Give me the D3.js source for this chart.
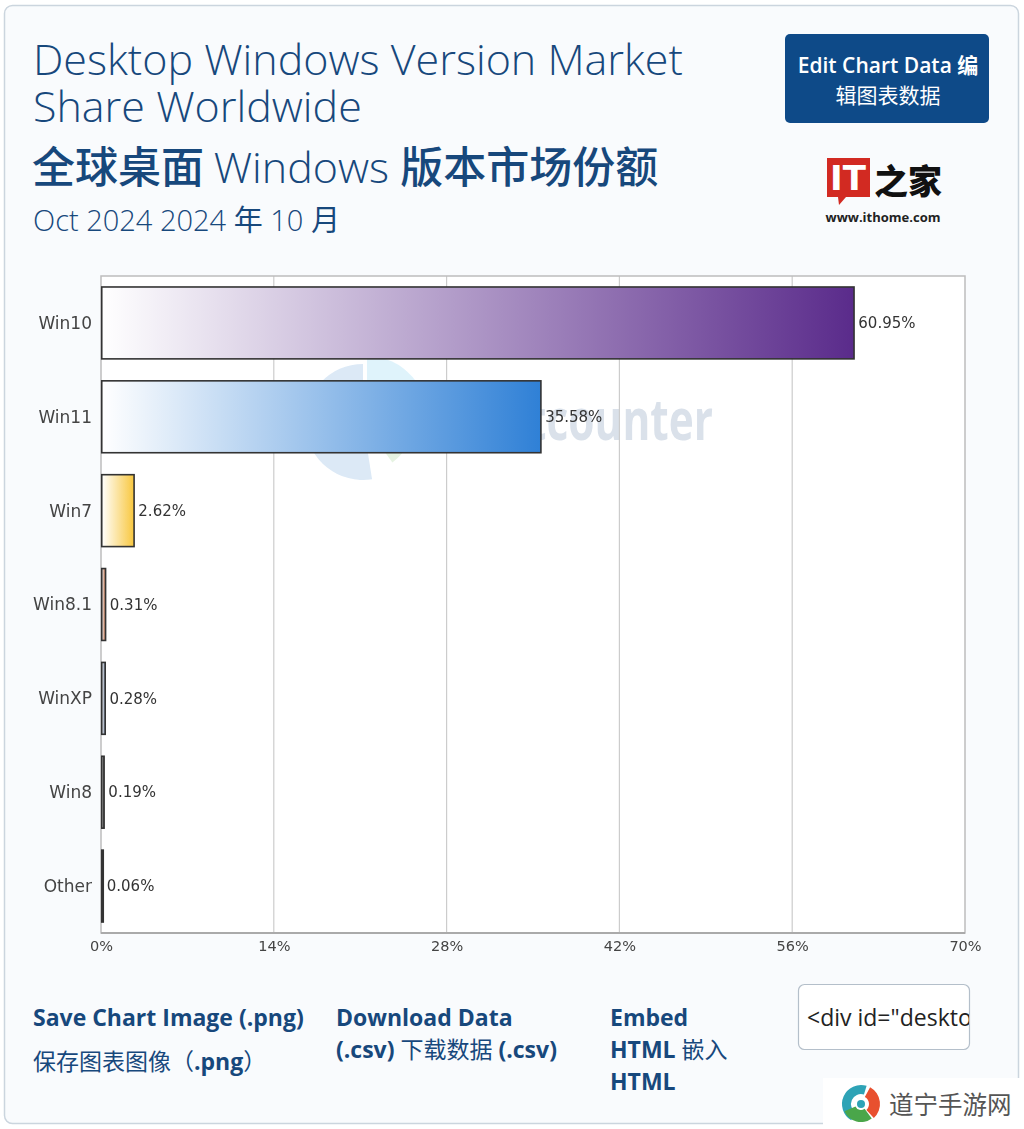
<!DOCTYPE html>
<html>
  <head>
    <meta charset="utf-8">
    <style>
      body { margin:0; background:#fff; }
      svg { display:block; }
      .title { font-family:"Open Sans", sans-serif; font-weight:300; fill:#17487c; }
      .cjk { font-family:"Noto Sans CJK SC", sans-serif; }
      .cat, .val, .tick text { font-family:"DejaVu Sans", Verdana, sans-serif; }
      .link { font-family:"Open Sans", "Noto Sans CJK SC", sans-serif; font-weight:700; fill:#17487c; font-size:23px; }
    </style>
    <script src="https://d3js.org/d3.v7.min.js" charset="utf-8"></script>
  </head>
  <body>
    <script>
      // data
      const categories = ['Win10','Win11','Win7','Win8.1','WinXP','Win8','Other']
      const values = [60.95,35.58,2.62,0.31,0.28,0.19,0.06]
      const barColors = ['#5a2b8b','#2f80d6','#f8c73e','#b8653f','#6f819c','#222222','#222222']
      const ticks = [0,14,28,42,56,70]

      const W = 1024, H = 1129
      const plot = {x0:101, x1:965, y0:276, y1:933}

      const svg = d3.select('body').append('svg')
        .attr('width',W).attr('height',H)
      const defs = svg.append('defs')

      // card
      svg.append('rect')
        .attr('x',4.5).attr('y',5.5).attr('width',1014).attr('height',1118).attr('rx',8)
        .attr('fill','#f9fbfd').attr('stroke','#cbd5de').attr('stroke-width',1.5)

      // titles
      svg.append('text').classed('title',true).attr('x',33).attr('y',75).attr('font-size',43)
        .text('Desktop Windows Version Market')
      svg.append('text').classed('title',true).attr('x',33).attr('y',122).attr('font-size',43)
        .text('Share Worldwide')
      const t2 = svg.append('text').attr('x',32).attr('y',183).attr('font-size',43).attr('fill','#17487c')
      t2.append('tspan').classed('cjk',true).attr('font-weight',500).text('全球桌面 ')
      t2.append('tspan').classed('title',true).text('Windows ')
      t2.append('tspan').classed('cjk',true).attr('font-weight',500).text('版本市场份额')
      const t3 = svg.append('text').attr('x',33).attr('y',231).attr('font-size',29).attr('fill','#17487c')
      t3.append('tspan').classed('title',true).text('Oct 2024 2024 ')
      t3.append('tspan').classed('cjk',true).attr('font-weight',400).text('年')
      t3.append('tspan').classed('title',true).text(' 10 ')
      t3.append('tspan').classed('cjk',true).attr('font-weight',400).text('月')

      // edit button
      svg.append('rect').attr('x',785).attr('y',34).attr('width',204).attr('height',89).attr('rx',5)
        .attr('fill','#0e4a88')
      svg.append('text').attr('x',888).attr('y',73).attr('text-anchor','middle').attr('font-size',21)
        .attr('fill','#fff').attr('font-weight',600).attr('font-family','"Open Sans","Noto Sans CJK SC",sans-serif')
        .text('Edit Chart Data 编')
      svg.append('text').attr('x',888).attr('y',103).attr('text-anchor','middle').attr('font-size',21)
        .attr('fill','#fff').attr('font-weight',400).classed('cjk',true)
        .text('辑图表数据')

      // ithome logo
      const logo = svg.append('g')
      logo.append('path').attr('d','M827,158H870V197H846L839,205L838,197H827Z').attr('fill','#d22a22')
      logo.append('text').attr('x',848).attr('y',190).attr('text-anchor','middle').attr('font-size',34)
        .attr('font-weight',900).attr('fill','#fff').attr('font-family','"DejaVu Sans",sans-serif').text('IT')
      logo.append('text').attr('x',874).attr('y',194).attr('font-size',34).attr('font-weight',900)
        .attr('fill','#111').classed('cjk',true).text('之家')
      logo.append('text').attr('x',883).attr('y',222).attr('text-anchor','middle').attr('font-size',13)
        .attr('font-weight',700).attr('fill','#222').attr('font-family','"Open Sans",sans-serif').text('www.ithome.com')

      // scales
      const x = d3.scaleLinear().domain([0,70]).range([plot.x0,plot.x1])
      const y = d3.scaleBand().domain(categories).range([plot.y0,plot.y1])
        .paddingInner(0.234).paddingOuter(0.117)

      // plot area
      svg.append('rect').attr('x',plot.x0).attr('y',plot.y0)
        .attr('width',plot.x1-plot.x0).attr('height',plot.y1-plot.y0).attr('fill','#fff')

      // statcounter watermark (behind bars)
      const wm = svg.append('g').attr('opacity',0.9)
      const arc = d3.arc()
      const cx = 363, cy = 422
      wm.append('path').attr('transform',`translate(${cx},${cy})`)
        .attr('d',arc({innerRadius:0,outerRadius:58,startAngle:Math.PI*0.95,endAngle:Math.PI*2}))
        .attr('fill','#d8e7f5')
      wm.append('path').attr('transform',`translate(${cx+4},${cy-6})`)
        .attr('d',arc({innerRadius:0,outerRadius:60,startAngle:0,endAngle:Math.PI*0.55}))
        .attr('fill','#dcf2fb')
      wm.append('path').attr('transform',`translate(${cx},${cy})`)
        .attr('d',arc({innerRadius:0,outerRadius:50,startAngle:Math.PI*0.55,endAngle:Math.PI*0.8}))
        .attr('fill','#e4f2df')
      wm.append('text').attr('x',463).attr('y',440).attr('font-size',58).attr('font-weight',700)
        .attr('font-family','"Open Sans",sans-serif').attr('fill','#d6dee8')
        .attr('textLength',250).attr('lengthAdjust','spacingAndGlyphs').text('statcounter')

      // grid
      svg.append('g').selectAll('line').data(ticks.slice(1,-1)).join('line')
        .attr('x1',d => x(d)).attr('x2',d => x(d)).attr('y1',plot.y0).attr('y2',plot.y1)
        .attr('stroke','#cccccc').attr('stroke-width',1.2)
      svg.append('rect').attr('x',plot.x0).attr('y',plot.y0)
        .attr('width',plot.x1-plot.x0).attr('height',plot.y1-plot.y0)
        .attr('fill','none').attr('stroke','#bdbdbd').attr('stroke-width',1.5)
      svg.append('line').attr('x1',plot.x0).attr('x2',plot.x1).attr('y1',plot.y1).attr('y2',plot.y1)
        .attr('stroke','#aaaaaa').attr('stroke-width',2)

      // gradients
      categories.forEach((c,i) => {
        const g = defs.append('linearGradient').attr('id','grad'+i)
          .attr('x1','0').attr('x2','1').attr('y1','0').attr('y2','0')
        g.append('stop').attr('offset','0%').attr('stop-color','#ffffff')
        g.append('stop').attr('offset','100%').attr('stop-color',barColors[i])
      })

      // bars
      svg.append('g').selectAll('rect').data(categories).join('rect')
        .attr('x',x(0)+0.75).attr('y',d => y(d))
        .attr('width',(d,i) => Math.max(x(values[i])-x(0),1.5)).attr('height',y.bandwidth())
        .attr('fill',(d,i) => `url(#grad${i})`)
        .attr('stroke','#333').attr('stroke-width',1.6)

      // value labels
      svg.append('g').selectAll('text').data(categories).join('text').classed('val',true)
        .attr('x',(d,i) => x(values[i])+5).attr('y',d => y(d)+y.bandwidth()/2)
        .attr('dy','0.35em').attr('font-size',15).attr('fill','#333')
        .text((d,i) => values[i].toFixed(2)+'%')

      // category axis labels
      svg.append('g').selectAll('text').data(categories).join('text').classed('cat',true)
        .attr('x',92).attr('y',d => y(d)+y.bandwidth()/2)
        .attr('dy','0.35em').attr('text-anchor','end').attr('font-size',17).attr('fill','#444')
        .text(d => d)

      // x axis
      const xAxis = svg.append('g').attr('class','tick')
        .attr('transform',`translate(0,${plot.y1})`)
        .call(d3.axisBottom(x).tickValues(ticks).tickFormat(d => d+'%').tickSize(0).tickPadding(8))
      xAxis.select('.domain').remove()
      xAxis.selectAll('text').attr('font-size',14.5).attr('fill','#444')
        .attr('font-family','"DejaVu Sans",Verdana,sans-serif')

      // bottom links
      const link = (xx,yy,parts) => {
        const t = svg.append('text').attr('x',xx).attr('y',yy).classed('link',true)
        parts.forEach(p => t.append('tspan').attr('font-weight',p[1]).attr('font-family',p[2] || null).text(p[0]))
      }
      const cj = '"Noto Sans CJK SC",sans-serif'
      link(33,1026,[['Save Chart Image (.png)',700]])
      link(33,1070,[['保存图表图像（',400,cj],['.png',700],['）',400,cj]])
      link(336,1026,[['Download Data',700]])
      link(336,1058,[['(.csv) ',700],['下载数据',400,cj],[' (.csv)',700]])
      link(610,1026,[['Embed',700]])
      link(610,1058,[['HTML ',700],['嵌入',400,cj]])
      link(610,1090,[['HTML',700]])

      // embed box
      defs.append('clipPath').attr('id','boxclip').append('rect')
        .attr('x',799).attr('y',985).attr('width',170).attr('height',64)
      svg.append('rect').attr('x',798.5).attr('y',984.5).attr('width',171).attr('height',65).attr('rx',6)
        .attr('fill','#fff').attr('stroke','#b4bfca').attr('stroke-width',1.2)
      svg.append('text').attr('x',807).attr('y',1026).attr('clip-path','url(#boxclip)')
        .attr('font-size',23).attr('font-family','"Open Sans",sans-serif').attr('fill','#222')
        .text('<div id="desktop_windows')

      // site watermark bottom right
      svg.append('rect').attr('x',823).attr('y',1078).attr('width',201).attr('height',51).attr('fill','#fff')
      const sw = svg.append('g').attr('transform','translate(861,1104)')
      sw.append('path').attr('d',arc({innerRadius:10,outerRadius:19,startAngle:-2.6,endAngle:0.3})).attr('fill','#2ea3b6')
      sw.append('path').attr('d',arc({innerRadius:8,outerRadius:19,startAngle:0.5,endAngle:2.4})).attr('fill','#e8502f')
      sw.append('path').attr('d',arc({innerRadius:6,outerRadius:18,startAngle:2.5,endAngle:4.3})).attr('fill','#4aa64a')
      sw.append('circle').attr('r',4).attr('fill','#2ea3b6')
      svg.append('text').attr('x',889).attr('y',1114).attr('font-size',24.5).attr('fill','#555')
        .classed('cjk',true).text('道宁手游网')
    </script>
  </body>
</html>
